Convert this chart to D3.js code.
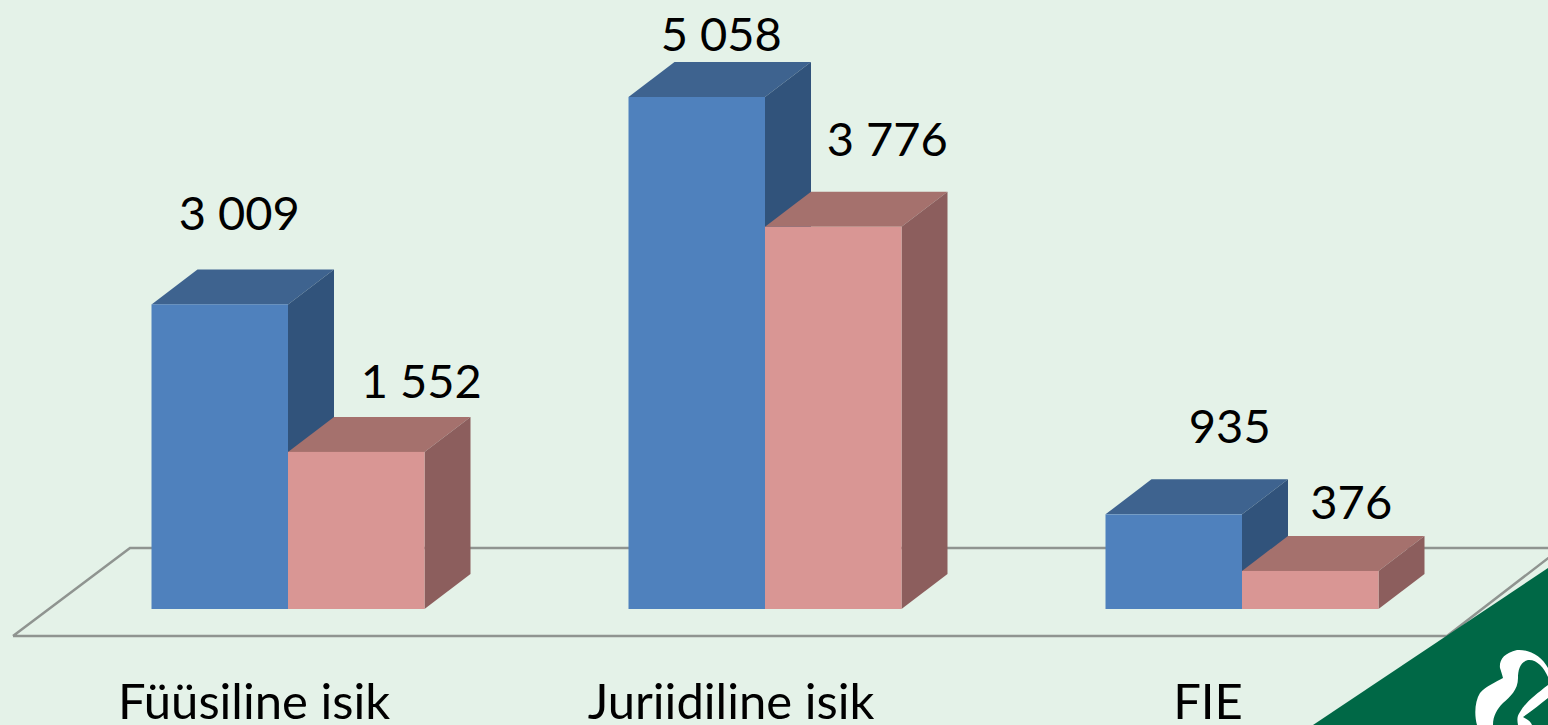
<!DOCTYPE html>
<html>
<head>
<meta charset="utf-8">
<script src="https://cdn.jsdelivr.net/npm/d3@7"></script>
<style>
html, body { margin: 0; padding: 0; background: #e4f2e8; overflow: hidden; }
svg { display: block; }
text { font-family: Lato, "Open Sans", sans-serif; fill: #000; }
</style>
</head>
<body>
<script>
// data
var categories = ["Füüsiline isik", "Juriidiline isik", "FIE"];
var seriesA = [3009, 5058, 935];
var seriesB = [1552, 3776, 376];
var valueLabelsA = ["3 009", "5 058", "935"];
var valueLabelsB = ["1 552", "3 776", "376"];

// dimensions
var width = 1548;
var height = 725;
var baseY = 609;
var depthX = 46;
var depthY = 35;
var barW = 136.5;

// hand placed labels, same as the original slide: [dx from bar centre, dy from bar top]
var labelOffsetA = [[19.5, -74], [24.5, -46], [56, -71]];
var labelOffsetB = [[65, -54], [54, -71], [41, -52]];
var categoryShift = -34;

var svg = d3.select("body").append("svg")
    .attr("width", width)
    .attr("height", height);

svg.append("rect").attr("width", width).attr("height", height).attr("fill", "#e4f2e8");

var x = d3.scalePoint().domain(categories).range([288, 1242]);
var y = d3.scaleLinear().domain([0, 5058]).range([baseY, 97]);

// floor of the 3d chart
svg.append("path")
    .attr("d", "M13,636L130,548L1560,548M13,636L1447,636L1560,549")
    .attr("fill", "none")
    .attr("stroke", "#8f9490")
    .attr("stroke-width", 2.5);

// green corner and logo
svg.append("path").attr("d", "M1313,725L1548,568L1548,725Z").attr("fill", "#006846");
svg.append("path")
    .attr("d", "M1500,668C1499,660 1504,653 1517,650C1530,649 1542,657 1548,668L1548,677C1544,667 1536,659 1528,660C1520,662 1518,670 1518,678C1518,690 1510,697 1503,703C1497,709 1493,716 1493,725L1477,725C1474,714 1475,701 1480,693C1486,686 1496,682 1503,678C1502,674 1501,671 1500,668Z")
    .attr("fill", "#fff");
svg.append("path")
    .attr("d", "M1548,685C1535,695 1525,703 1520,712C1517,716 1517,720 1518,725L1532,725C1530,721 1528,720 1523,717C1532,711 1540,704 1548,698Z")
    .attr("fill", "#fff");

// one 3d bar: front, top, side
function drawBar(x0, value, front, top, side) {
    var t = y(value);
    var g = svg.append("g");
    g.append("path")
        .attr("d", d3.line()([[x0, t], [x0 + depthX, t - depthY], [x0 + barW + depthX, t - depthY], [x0 + barW, t]]))
        .attr("fill", top);
    g.append("path")
        .attr("d", d3.line()([[x0 + barW, t], [x0 + barW + depthX, t - depthY], [x0 + barW + depthX, baseY - depthY], [x0 + barW, baseY]]))
        .attr("fill", side);
    g.append("rect")
        .attr("x", x0).attr("y", t)
        .attr("width", barW).attr("height", baseY - t)
        .attr("fill", front);
}

categories.forEach(function(c, i) {
    var cx = x(c);
    drawBar(cx - barW, seriesA[i], "#4f81bd", "#3e638f", "#31537b");
    drawBar(cx, seriesB[i], "#d99694", "#a5716d", "#8c5e5d");

    svg.append("text")
        .attr("x", cx - barW / 2 + labelOffsetA[i][0]).attr("y", y(seriesA[i]) + labelOffsetA[i][1])
        .attr("text-anchor", "middle").attr("font-size", 47)
        .text(valueLabelsA[i]);
    svg.append("text")
        .attr("x", cx + barW / 2 + labelOffsetB[i][0]).attr("y", y(seriesB[i]) + labelOffsetB[i][1])
        .attr("text-anchor", "middle").attr("font-size", 47)
        .text(valueLabelsB[i]);
    svg.append("text")
        .attr("x", cx + categoryShift).attr("y", 719)
        .attr("text-anchor", "middle").attr("font-size", 49)
        .text(c);
});
</script>
</body>
</html>
